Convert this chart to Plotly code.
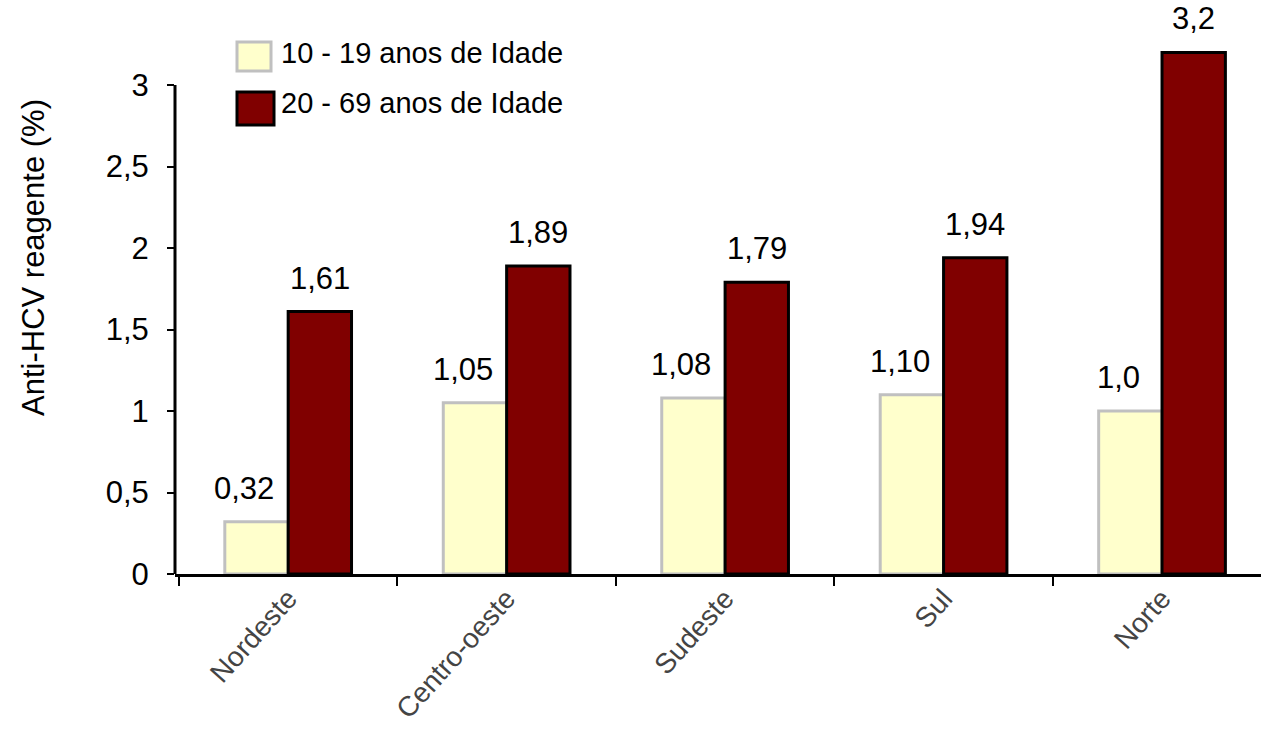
import plotly.graph_objects as go

# Regions and prevalence of reactive anti-HCV (%) by age group
regioes = ["Nordeste", "Centro-oeste", "Sudeste", "Sul", "Norte"]
serie_nomes = ["10 - 19 anos de Idade", "20 - 69 anos de Idade"]
jovens = [0.32, 1.05, 1.08, 1.10, 1.0]
jovens_casas = [2, 2, 2, 2, 1]
adultos = [1.61, 1.89, 1.79, 1.94, 3.2]
adultos_casas = [2, 2, 2, 2, 1]
y_ticks = [0, 0.5, 1, 1.5, 2, 2.5, 3]

FONT = "Liberation Sans, Arial, sans-serif"
AMARELO = "#FFFFCC"
VINHO = "#800000"

W, H = 1261, 730
ML, MR, MT, MB = 175, 0, 20, 156
PW, PH = W - ML - MR, H - MT - MB


def px_x(px):
    return (px - ML) / PW


def px_y(py):
    return (H - MB - py) / PH


def rotulo(v, casas):
    return f"{v:.{casas}f}".replace(".", ",")


fig = go.Figure()
fig.add_trace(go.Bar(
    x=regioes, y=jovens, name=serie_nomes[0],
    marker=dict(color=AMARELO, line=dict(color="#C0C0C0", width=3)),
    showlegend=False,
))
fig.add_trace(go.Bar(
    x=regioes, y=adultos, name=serie_nomes[1],
    marker=dict(color=VINHO, line=dict(color="#000000", width=3)),
    showlegend=False,
))

# value labels above each bar
anns = []
largura = (1 - 0.42) / 2
for i, (v, c) in enumerate(zip(jovens, jovens_casas)):
    anns.append(dict(x=i - largura / 2, y=v, xref="x", yref="y", text=rotulo(v, c),
                     showarrow=False, yanchor="bottom", yshift=14, xshift=-12,
                     font=dict(family=FONT, size=31, color="#000")))
for i, (v, c) in enumerate(zip(adultos, adultos_casas)):
    anns.append(dict(x=i + largura / 2, y=v, xref="x", yref="y", text=rotulo(v, c),
                     showarrow=False, yanchor="bottom", yshift=14,
                     font=dict(family=FONT, size=31, color="#000")))

# y-axis title
anns.append(dict(x=px_x(33), y=px_y(258), xref="paper", yref="paper",
                 xanchor="center", yanchor="middle",
                 text="Anti-HCV reagente (%)", textangle=-90, showarrow=False,
                 font=dict(family=FONT, size=31, color="#000")))

# legend block
legenda = [
    (serie_nomes[0], AMARELO, "#C0C0C0", (237, 42, 271, 71), 53),
    (serie_nomes[1], VINHO, "#000000", (237, 92, 274, 125), 103),
]
shapes = []
for nome, cor, borda, (x0, y0, x1, y1), yc in legenda:
    shapes.append(dict(type="rect", xref="paper", yref="paper",
                       x0=px_x(x0), x1=px_x(x1), y0=px_y(y1), y1=px_y(y0),
                       fillcolor=cor, line=dict(color=borda, width=3)))
    anns.append(dict(x=px_x(279), y=px_y(yc), xref="paper", yref="paper",
                     text=nome, showarrow=False, xanchor="left", yanchor="middle",
                     font=dict(family=FONT, size=29, color="#000")))

# vertical axis line up to the top tick only
shapes.append(dict(type="line", xref="paper", yref="y", x0=0, x1=0,
                   y0=0, y1=y_ticks[-1], line=dict(color="#000", width=3)))

fig.update_layout(
    width=W, height=H,
    margin=dict(l=ML, r=MR, t=MT, b=MB, autoexpand=False),
    paper_bgcolor="white", plot_bgcolor="white",
    separators=",.",
    barmode="group", bargap=0.42, bargroupgap=0,
    annotations=anns, shapes=shapes,
    font=dict(family=FONT, color="#000"),
)
fig.update_xaxes(
    range=[-0.518, 4.453], automargin=False,
    showline=True, linecolor="#000", linewidth=3,
    ticks="outside", tickson="boundaries", ticklen=9, tickwidth=2, tickcolor="#000",
    tickangle=-48, ticklabelstandoff=-6,
    tickfont=dict(family=FONT, size=28, color="#444"),
    showgrid=False, zeroline=False,
)
fig.update_yaxes(
    range=[0, PH / 163], automargin=False,
    tickvals=y_ticks,
    showline=False,
    ticks="outside", ticklen=7, tickwidth=2, tickcolor="#000",
    ticklabelstandoff=12,
    tickfont=dict(family=FONT, size=31, color="#000"),
    showgrid=False, zeroline=False,
)

fig.write_html("out.html")
